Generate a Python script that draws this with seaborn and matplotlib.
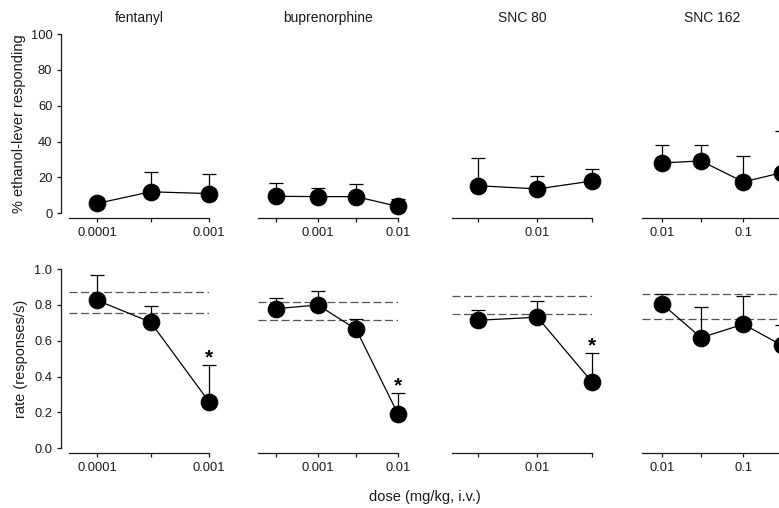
import numpy as np
import pandas as pd
import matplotlib
matplotlib.use('Agg')
import matplotlib.pyplot as plt
import seaborn as sns

# drugs and doses (mg/kg, i.v.)
drugs = ['fentanyl', 'buprenorphine', 'SNC 80', 'SNC 162']
doses = [
    [0.0001, 0.0003, 0.001],
    [0.0003, 0.001, 0.003, 0.01],
    [0.003, 0.01, 0.03],
    [0.01, 0.03, 0.1, 0.3],
]

# % ethanol-lever responding (mean, SEM)
etoh_mean = [
    [5.5, 12, 11],
    [9.5, 9.3, 9.3, 3.8],
    [15.4, 13.6, 18.0],
    [28.1, 29.2, 17.5, 22.7],
]
etoh_sem = [
    [3, 11, 11],
    [7.6, 5.0, 7.2, 4.2],
    [15.4, 7.4, 6.7],
    [10.2, 9.1, 14.3, 23],
]

# response rate (responses/s) (mean, SEM)
rate_mean = [
    [0.825, 0.704, 0.26],
    [0.779, 0.799, 0.664, 0.191],
    [0.714, 0.731, 0.37],
    [0.803, 0.617, 0.692, 0.574],
]
rate_sem = [
    [0.14, 0.091, 0.203],
    [0.058, 0.077, 0.057, 0.119],
    [0.056, 0.091, 0.16],
    [0.059, 0.169, 0.159, 0.112],
]

# control range (dashed lines) for rate
control_band = [
    [0.753, 0.870],
    [0.714, 0.814],
    [0.749, 0.849],
    [0.719, 0.862],
]

# significant points (index into doses) for rate
signif = [[2], [3], [2], []]

xlims = [(5.6e-5, 0.001), (1.79e-4, 0.01), (1.79e-3, 0.03), (5.58e-3, 0.3)]

sns.set_style('ticks')
plt.rcParams['font.family'] = ['Liberation Sans', 'DejaVu Sans']
ink = '#1a1a1a'

W, H = 779, 508
fig = plt.figure(figsize=(W / 100, H / 100), dpi=100)

lefts = [69, 258, 452, 642]
ax_w = 140
ax_h = 179.3
row_bottoms = [508 - 213.3, 508 - 448.3]


def style_axis(ax, col, row):
    for s in ['top', 'right']:
        ax.spines[s].set_visible(False)
    ax.spines['bottom'].set_position(('outward', 3.4))
    ax.spines['bottom'].set_color(ink)
    ax.spines['bottom'].set_linewidth(0.9)
    if col == 0:
        ax.spines['left'].set_position(('outward', 5.8))
        ax.spines['left'].set_color(ink)
        ax.spines['left'].set_linewidth(0.9)
    else:
        ax.spines['left'].set_visible(False)
        ax.tick_params(axis='y', left=False, labelleft=False)
    ax.tick_params(axis='both', length=3.2, width=0.9, color=ink,
                   labelsize=9.3, labelcolor=ink, pad=3)
    ax.set_xscale('log')
    ax.set_xlim(*xlims[col])
    ax.minorticks_off()
    d = doses[col]
    ax.set_xticks(d)
    ax.set_xticklabels([f'{v:g}' if abs(np.log10(v) - round(np.log10(v))) < 1e-6 else '' for v in d])
    ax.set_xlabel('')
    ax.set_ylabel('')


def draw_panel(ax, col, means, sems):
    df = pd.DataFrame({'dose': doses[col], 'value': means})
    ax.errorbar(doses[col], means, yerr=[np.zeros(len(means)), sems], fmt='none',
                ecolor='black', elinewidth=0.9, capsize=4.7, capthick=0.9,
                zorder=2, clip_on=False)
    sns.lineplot(data=df, x='dose', y='value', ax=ax, color='black', linewidth=0.9,
                 marker='o', markersize=12, markeredgecolor='black',
                 markerfacecolor='black', zorder=3, clip_on=False)


for col in range(4):
    # top row: % ethanol-lever responding
    ax = fig.add_axes([lefts[col] / W, row_bottoms[0] / H, ax_w / W, ax_h / H])
    draw_panel(ax, col, etoh_mean[col], etoh_sem[col])
    ax.set_ylim(0, 100)
    ax.set_yticks([0, 20, 40, 60, 80, 100])
    style_axis(ax, col, 0)
    ax.set_title(drugs[col], fontsize=10, color=ink, pad=9)
    if col == 0:
        ax.set_ylabel('% ethanol-lever responding', fontsize=10.5, color=ink)
        ax.yaxis.set_label_coords(-0.31, 0.5)

    # bottom row: response rate
    ax = fig.add_axes([lefts[col] / W, row_bottoms[1] / H, ax_w / W, ax_h / H])
    for yv in control_band[col]:
        ax.axhline(yv, color='#555555', linewidth=0.9, linestyle=(0, (6.4, 2.8)), zorder=1)
    draw_panel(ax, col, rate_mean[col], rate_sem[col])
    ax.set_ylim(0, 1.0)
    ax.set_yticks([0.0, 0.2, 0.4, 0.6, 0.8, 1.0])
    ax.set_yticklabels(['0.0', '0.2', '0.4', '0.6', '0.8', '1.0'])
    style_axis(ax, col, 1)
    if col == 0:
        ax.set_ylabel('rate (responses/s)', fontsize=10.5, color=ink)
        ax.yaxis.set_label_coords(-0.29, 0.5)
    for i in signif[col]:
        cap = rate_mean[col][i] + rate_sem[col][i]
        ax.annotate('*', (doses[col][i], cap), xytext=(0, 5), textcoords='offset points',
                    ha='center', va='center', fontsize=15, fontweight='bold', color='black')

fig.text(425 / W, 1 - 497 / H, 'dose (mg/kg, i.v.)', ha='center', va='center',
         fontsize=10.5, color=ink)

fig.savefig('out.png', dpi=100)
